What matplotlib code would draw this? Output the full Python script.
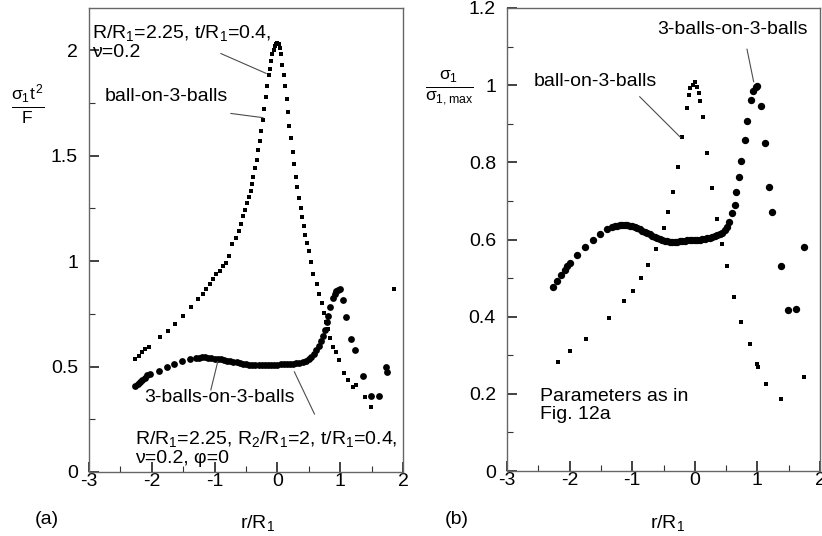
import numpy as np
import matplotlib.pyplot as plt
from matplotlib.ticker import MultipleLocator

plt.rcParams['font.family'] = ['Liberation Sans', 'DejaVu Sans']
plt.rcParams['mathtext.fontset'] = 'custom'
plt.rcParams['mathtext.rm'] = 'Liberation Sans'
plt.rcParams['mathtext.it'] = 'Liberation Sans'
plt.rcParams['axes.unicode_minus'] = False

# (a) sigma_1 t^2 / F, ball-on-3-balls
xa_ball = [-2.27, -2.21, -2.16, -2.11, -2.05, -1.87, -1.75, -1.63, -1.50, -1.37,
           -1.26, -1.19, -1.13, -1.07, -1.02, -0.98, -0.92, -0.87, -0.82, -0.77,
           -0.72, -0.66, -0.605, -0.578, -0.541, -0.51, -0.489, -0.457, -0.419, -0.403,
           -0.382, -0.35, -0.329, -0.303, -0.276, -0.255, -0.234, -0.207, -0.18, -0.159,
           -0.138, -0.12, -0.10, -0.08, -0.06, -0.04, -0.02, 0.0, 0.02, 0.04,
           0.06, 0.08, 0.10, 0.122, 0.149, 0.175, 0.191, 0.218, 0.244, 0.265,
           0.297, 0.318, 0.34, 0.372, 0.393, 0.419, 0.446, 0.478, 0.499, 0.536,
           0.573, 0.626, 0.669, 0.706, 0.738, 0.775, 0.802, 0.839, 0.881, 0.934,
           0.987, 1.067, 1.12, 1.20, 1.25, 1.39, 1.49, 1.73, 1.86]
ya_ball = [0.536, 0.552, 0.567, 0.583, 0.594, 0.638, 0.670, 0.704, 0.741, 0.780,
           0.819, 0.846, 0.866, 0.890, 0.913, 0.937, 0.953, 0.976, 0.992, 1.024,
           1.079, 1.11, 1.142, 1.176, 1.212, 1.244, 1.275, 1.302, 1.333, 1.365,
           1.401, 1.440, 1.480, 1.527, 1.571, 1.616, 1.671, 1.723, 1.777, 1.830,
           1.880, 1.91, 1.95, 1.98, 2.00, 2.02, 2.03, 2.035, 2.03, 2.01,
           1.98, 1.93, 1.88, 1.830, 1.770, 1.708, 1.642, 1.582, 1.519, 1.459,
           1.401, 1.349, 1.299, 1.251, 1.208, 1.165, 1.123, 1.086, 1.047, 0.997,
           0.940, 0.890, 0.843, 0.799, 0.756, 0.709, 0.678, 0.635, 0.591, 0.570,
           0.530, 0.470, 0.436, 0.404, 0.412, 0.357, 0.310, 0.500, 0.870]

# (a) 3-balls-on-3-balls
xa_3b = [-2.27, -2.22, -2.19, -2.15, -2.11, -2.07, -2.03, -1.88, -1.76, -1.64,
         -1.52, -1.39, -1.30, -1.25, -1.20, -1.15, -1.10, -1.05, -1.00, -0.95,
         -0.90, -0.85, -0.80, -0.75, -0.70, -0.65, -0.60, -0.55, -0.50, -0.45,
         -0.40, -0.35, -0.30, -0.25, -0.20, -0.15, -0.10, -0.05, 0.00, 0.05,
         0.10, 0.15, 0.20, 0.25, 0.30, 0.35, 0.40, 0.45, 0.50, 0.54,
         0.58, 0.62, 0.66, 0.70, 0.73, 0.76, 0.79, 0.81, 0.84, 0.88,
         0.91, 0.94, 0.97, 1.00, 1.05, 1.10, 1.17, 1.23, 1.36, 1.49,
         1.61, 1.73, 1.74]
ya_3b = [0.406, 0.418, 0.426, 0.437, 0.447, 0.458, 0.466, 0.481, 0.497, 0.513,
         0.525, 0.536, 0.540, 0.542, 0.543, 0.543, 0.542, 0.540, 0.538, 0.536,
         0.534, 0.531, 0.528, 0.526, 0.523, 0.520, 0.517, 0.514, 0.511, 0.509,
         0.507, 0.506, 0.505, 0.505, 0.505, 0.506, 0.507, 0.508, 0.509, 0.510,
         0.511, 0.512, 0.513, 0.514, 0.515, 0.517, 0.520, 0.526, 0.535, 0.546,
         0.560, 0.578, 0.598, 0.620, 0.645, 0.675, 0.710, 0.740, 0.780, 0.827,
         0.846, 0.858, 0.865, 0.870, 0.815, 0.733, 0.631, 0.579, 0.453, 0.360,
         0.362, 0.497, 0.473]

# (b) sigma_1 / sigma_1,max, ball-on-3-balls
xb_ball = [-2.19, -2.00, -1.74, -1.37, -1.13, -0.99, -0.86, -0.74, -0.62, -0.49,
           -0.43, -0.35, -0.27, -0.20, -0.12, -0.09, -0.07, -0.03, 0.0, 0.03,
           0.06, 0.085, 0.13, 0.20, 0.28, 0.36, 0.43, 0.51, 0.63, 0.745,
           0.877, 1.0, 1.01, 1.13, 1.38, 1.74]
yb_ball = [0.283, 0.310, 0.343, 0.397, 0.441, 0.467, 0.499, 0.534, 0.576, 0.631,
           0.672, 0.723, 0.789, 0.865, 0.940, 0.975, 0.992, 1.0, 1.007, 0.995,
           0.979, 0.958, 0.917, 0.825, 0.734, 0.653, 0.588, 0.531, 0.452, 0.387,
           0.329, 0.277, 0.270, 0.225, 0.186, 0.244]

# (b) 3-balls-on-3-balls
xb_3b = [-2.26, -2.20, -2.14, -2.08, -2.04, -2.00, -1.88, -1.75, -1.62, -1.51,
         -1.41, -1.32, -1.28, -1.24, -1.20, -1.16, -1.12, -1.08, -1.04, -1.00,
         -0.96, -0.92, -0.88, -0.84, -0.80, -0.76, -0.72, -0.68, -0.64, -0.60,
         -0.56, -0.52, -0.48, -0.44, -0.40, -0.36, -0.32, -0.28, -0.24, -0.20,
         -0.16, -0.12, -0.08, -0.04, 0.00, 0.04, 0.08, 0.12, 0.16, 0.20,
         0.24, 0.28, 0.32, 0.36, 0.40, 0.44, 0.48, 0.51, 0.55, 0.60,
         0.64, 0.665, 0.71, 0.745, 0.80, 0.835, 0.89, 0.93, 0.97, 1.00,
         1.06, 1.12, 1.18, 1.24, 1.37, 1.49, 1.61, 1.74]
yb_3b = [0.476, 0.493, 0.507, 0.521, 0.531, 0.538, 0.560, 0.580, 0.600, 0.614,
         0.627, 0.632, 0.634, 0.636, 0.637, 0.638, 0.638, 0.637, 0.636, 0.634,
         0.632, 0.629, 0.626, 0.622, 0.619, 0.616, 0.613, 0.610, 0.607, 0.604,
         0.601, 0.599, 0.597, 0.595, 0.594, 0.593, 0.593, 0.594, 0.595, 0.596,
         0.597, 0.598, 0.599, 0.599, 0.599, 0.600, 0.600, 0.601, 0.602, 0.603,
         0.604, 0.606, 0.608, 0.611, 0.614, 0.618, 0.625, 0.633, 0.646, 0.668,
         0.690, 0.722, 0.761, 0.804, 0.858, 0.906, 0.962, 0.986, 0.995, 0.998,
         0.947, 0.851, 0.735, 0.672, 0.531, 0.416, 0.419, 0.580]

FS = 14
fig = plt.figure(figsize=(8.22, 5.36), dpi=100)
ax1 = fig.add_axes([89 / 822, 1 - 472 / 536, 314 / 822, 464 / 536])
ax2 = fig.add_axes([507 / 822, 1 - 471 / 536, 313 / 822, 463 / 536])


def style(ax, ymax, ymaj, ymin):
    ax.set_xlim(-3, 2)
    ax.set_ylim(0, ymax)
    ax.xaxis.set_major_locator(MultipleLocator(1))
    ax.xaxis.set_minor_locator(MultipleLocator(0.5))
    ax.yaxis.set_major_locator(MultipleLocator(ymaj))
    ax.yaxis.set_minor_locator(MultipleLocator(ymin))
    ax.tick_params(which='both', direction='in', top=False, right=False,
                   colors='0.2', labelcolor='black', labelsize=FS)
    ax.tick_params(which='major', length=7, width=1.3)
    ax.tick_params(which='minor', length=4, width=0.8)
    ax.tick_params(axis='x', pad=1)
    ax.tick_params(axis='y', pad=8)
    for s in ax.spines.values():
        s.set_color('0.4')
        s.set_linewidth(1.0)


style(ax1, 2.2, 0.5, 0.25)
style(ax2, 1.2, 0.2, 0.1)
ax1.set_yticks([0, 0.5, 1, 1.5, 2])
ax1.set_yticklabels(['0', '0.5', '1', '1.5', '2'])
ax2.set_yticks([0, 0.2, 0.4, 0.6, 0.8, 1.0, 1.2])
ax2.set_yticklabels(['0', '0.2', '0.4', '0.6', '0.8', '1', '1.2'])

ax1.scatter(xa_ball, ya_ball, s=9, marker='s', color='black', linewidths=0)
ax1.scatter(xa_3b, ya_3b, s=24, marker='o', color='black', linewidths=0)
ax2.scatter(xb_ball, yb_ball, s=9, marker='s', color='black', linewidths=0)
ax2.scatter(xb_3b, yb_3b, s=28, marker='o', color='black', linewidths=0)

# annotations panel (a)
lk = dict(color='0.3', lw=0.8)
ax1.text(-2.95, 2.04, 'R/R$_1$=2.25, t/R$_1$=0.4,\n\u03bd=0.2', fontsize=FS,
         va='center', ha='left', linespacing=1.1)
ax1.plot([-0.90, -0.18], [1.984, 1.89], **lk)
ax1.text(-2.75, 1.78, 'ball-on-3-balls', fontsize=FS, va='center', ha='left')
ax1.plot([-0.74, -0.23], [1.70, 1.68], **lk)
ax1.text(-2.12, 0.355, '3-balls-on-3-balls', fontsize=FS, va='center', ha='left')
ax1.plot([-1.06, -0.95], [0.389, 0.523], **lk)
ax1.text(-2.26, 0.115, 'R/R$_1$=2.25, R$_2$/R$_1$=2, t/R$_1$=0.4,\n\u03bd=0.2, \u03c6=0',
         fontsize=FS, va='center', ha='left', linespacing=1.1)
ax1.plot([0.59, 0.27], [0.275, 0.475], **lk)

# annotations panel (b)
ax2.text(-2.58, 1.01, 'ball-on-3-balls', fontsize=FS, va='center', ha='left')
ax2.plot([-0.88, -0.23], [0.970, 0.865], **lk)
ax2.text(-0.60, 1.145, '3-balls-on-3-balls', fontsize=FS, va='center', ha='left')
ax2.plot([0.834, 0.94], [1.093, 1.009], **lk)
ax2.text(-2.48, 0.17, 'Parameters as in\nFig. 12a', fontsize=FS, va='center',
         ha='left', linespacing=1.1)

# axis labels and panel tags
fig.text(28 / 822, 1 - 104 / 536, r'$\frac{\sigma_1 t^2}{F}$', fontsize=FS + 4,
         ha='center', va='center')
fig.text(449 / 822, 1 - 88 / 536, r'$\frac{\sigma_1}{\sigma_{1,max}}$', fontsize=FS + 4,
         ha='center', va='center')
fig.text(258 / 822, 1 - 523 / 536, 'r/R$_1$', fontsize=FS, ha='center', va='center')
fig.text(668 / 822, 1 - 523 / 536, 'r/R$_1$', fontsize=FS, ha='center', va='center')
fig.text(47 / 822, 1 - 520 / 536, '(a)', fontsize=FS, ha='center', va='center')
fig.text(457 / 822, 1 - 520 / 536, '(b)', fontsize=FS, ha='center', va='center')

fig.savefig('out.png', dpi=100)
